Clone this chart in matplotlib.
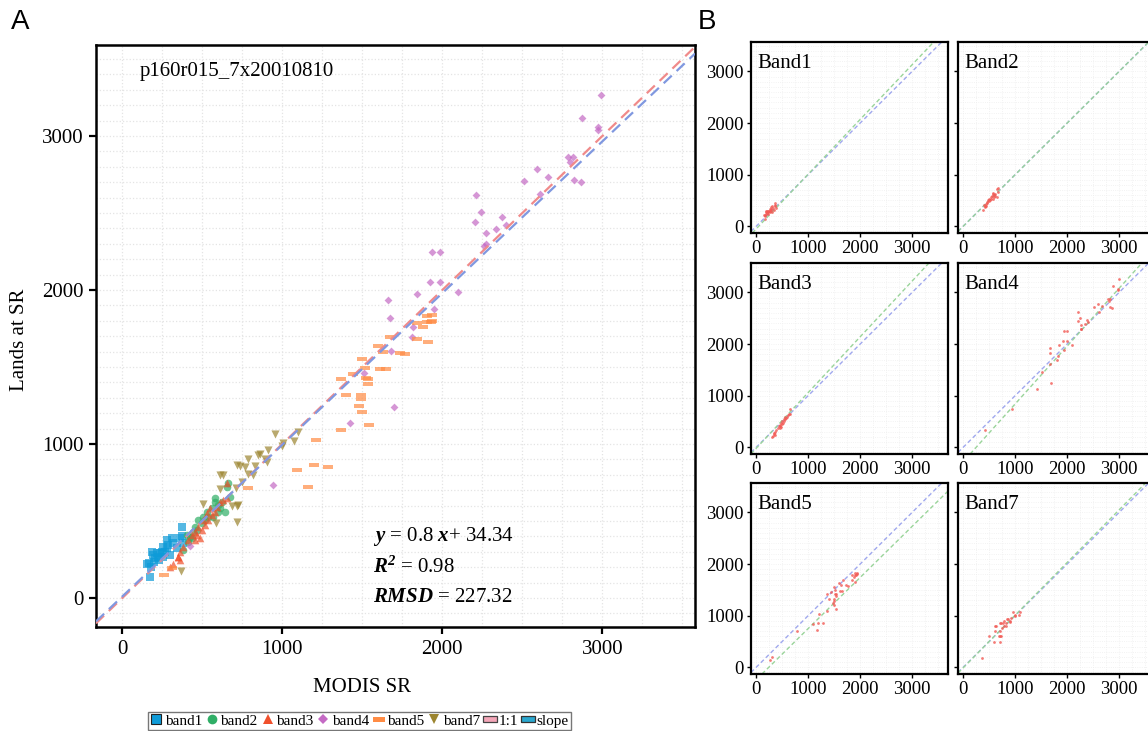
import matplotlib.pyplot as plt
from matplotlib.lines import Line2D
import numpy as np

plt.rcParams['font.family'] = ['Liberation Serif', 'DejaVu Serif']
plt.rcParams['mathtext.fontset'] = 'custom'
plt.rcParams['mathtext.rm'] = 'Liberation Serif'
plt.rcParams['mathtext.it'] = 'Liberation Serif:italic'
plt.rcParams['mathtext.bf'] = 'Liberation Serif:bold:italic'

# --- data (MODIS SR vs Landsat SR) ---
band1_x = [152, 173, 177, 194, 204, 215, 225, 236, 246, 256, 267, 277, 288, 308, 319, 340,
           360, 371, 381, 371, 183, 198, 231, 256, 169, 277, 298]
band1_y = [221, 138, 203, 279, 258, 290, 268, 290, 301, 333, 301, 322, 344, 387, 355, 322,
           387, 403, 355, 459, 301, 236, 247, 268, 225, 377, 279]

band2_x = [663, 652, 579, 600, 610, 642, 600, 558, 538, 517, 496, 475, 454, 444, 423, 402,
           381, 413, 527, 579, 673, 506, 465, 433, 569, 621]
band2_y = [745, 723, 626, 604, 582, 561, 561, 582, 528, 507, 485, 507, 463, 431, 398, 409,
           312, 366, 561, 647, 658, 528, 442, 387, 528, 626]

band3_x = [350, 360, 381, 413, 433, 454, 485, 475, 496, 517, 538, 558, 579, 590, 610, 631,
           652, 548, 527, 465, 506, 360, 652, 454, 348, 320, 300]
band3_y = [268, 301, 333, 377, 409, 431, 387, 463, 442, 474, 507, 539, 561, 593, 626, 636,
           647, 582, 550, 409, 507, 247, 747, 377, 266, 220, 200]

band4_x = [2994, 2875, 2971, 2971, 2787, 2819, 2798, 2825, 2867, 2589, 2512, 2662, 2610,
           2210, 2242, 2206, 2375, 2337, 2396, 2271, 2260, 2273, 1937, 1988, 1925, 1988,
           2098, 1840, 1663, 1673, 1948, 1815, 1677, 1808, 1508, 1698, 1423, 940, 423]
band4_y = [3264, 3117, 3061, 3039, 2866, 2866, 2829, 2714, 2703, 2784, 2708, 2732, 2621,
           2619, 2509, 2439, 2472, 2394, 2422, 2372, 2286, 2299, 2245, 2249, 2054, 2054,
           1985, 1974, 1933, 1820, 1879, 1762, 1606, 1692, 1461, 1242, 1134, 734, 338]

band5_x = [1907, 1936, 1903, 1928, 1936, 1840, 1878, 1673, 1840, 1909, 1600, 1632, 1736,
           1769, 1496, 1517, 1611, 1648, 1444, 1523, 1534, 1538, 1365, 1398, 1490, 1492,
           1478, 1496, 1544, 1365, 1211, 1196, 1288, 1094, 1161, 787, 308, 260]
band5_y = [1831, 1836, 1794, 1794, 1801, 1784, 1758, 1697, 1682, 1660, 1639, 1595, 1589,
           1582, 1550, 1491, 1485, 1485, 1452, 1426, 1420, 1390, 1420, 1316, 1316, 1290,
           1247, 1210, 1121, 1089, 1024, 863, 853, 831, 718, 712, 197, 149]

band7_x = [956, 1096, 1073, 996, 1006, 912, 850, 860, 787, 892, 902, 715, 735, 767, 829,
           787, 819, 610, 631, 746, 610, 708, 502, 683, 715, 725, 585, 715, 365]
band7_y = [1065, 1080, 1022, 987, 1004, 961, 929, 935, 901, 901, 885, 864, 857, 853, 859,
           805, 799, 799, 799, 755, 706, 712, 610, 597, 597, 604, 485, 496, 175]

band_names = ['band1', 'band2', 'band3', 'band4', 'band5', 'band7']
panel_titles = ['Band1', 'Band2', 'Band3', 'Band4', 'Band5', 'Band7']
band_colors = ['#0e9bd8', '#2fae66', '#f0502c', '#c46ac4', '#ff8c45', '#9c8530']

# regression lines shown in panel B (green) per band
fit_slope = [1.06, 1.0, 1.08, 1.12, 0.99, 1.02]
fit_icpt = [-50, 0, -20, -280, -240, -10]
# fitted line in panel A
all_slope, all_icpt = 0.985, 10

xs = [band1_x, band2_x, band3_x, band4_x, band5_x, band7_x]
ys = [band1_y, band2_y, band3_y, band4_y, band5_y, band7_y]

rect = [(-1, -0.4), (1, -0.4), (1, 0.4), (-1, 0.4), (-1, -0.4)]
markers = ['s', 'o', '^', 'D', rect, 'v']
sizes = [28, 30, 30, 16, 42, 34]
leg_sizes = [7, 7, 7, 5, 9, 7]

fig = plt.figure(figsize=(11.48, 7.31), dpi=100)

# ---------------- panel A ----------------
ax = fig.add_axes([96 / 1148, 1 - 627 / 731, 599 / 1148, 582 / 731])
for i in range(6):
    ax.scatter(xs[i], ys[i], marker=markers[i], s=sizes[i], c=band_colors[i],
               alpha=0.7, linewidths=0, zorder=3)
ax.axline((0, 0), slope=1, color='#f08a8a', lw=1.6, ls=(0, (5, 3)), zorder=4)
ax.axline((0, all_icpt), slope=all_slope, color='#8098e0', lw=1.6, ls=(0, (5, 3)), zorder=4)

ax.set_xticks([0, 1000, 2000, 3000])
ax.set_yticks([0, 1000, 2000, 3000])
ax.set_xticks(np.arange(-250, 3751, 250), minor=True)
ax.set_yticks(np.arange(-100, 3601, 100), minor=True)
ax.set_xlim(-164, 3579)
ax.set_ylim(-188, 3591)
ax.grid(which='both', color='#e4e4e4', ls=':', lw=0.9, zorder=0)
ax.tick_params(which='major', direction='out', length=5, width=1.6, labelsize=15, pad=4)
ax.tick_params(which='minor', length=0)
for s in ax.spines.values():
    s.set_linewidth(1.8)

ax.text(0.073, 0.954, 'p160r015_7x20010810', transform=ax.transAxes, fontsize=15,
        va='center', ha='left')
ax.text(0.462, 0.155, r'$\mathbf{y}$ = 0.8 $\mathbf{x}$+ 34.34', transform=ax.transAxes,
        fontsize=15, va='center')
ax.text(0.462, 0.103, r'$\mathbf{R^2}$ = 0.98', transform=ax.transAxes,
        fontsize=15, va='center')
ax.text(0.462, 0.050, r'$\mathbf{RMSD}$ = 227.32', transform=ax.transAxes,
        fontsize=15, va='center')

fig.text(362 / 1148, 1 - 687 / 731, 'MODIS SR', fontsize=15, ha='center', va='center')
fig.text(20 / 1148, 1 - 340 / 731, 'Lands at SR', fontsize=15, ha='center', va='center',
         rotation=90)

fig.text(20 / 1148, 1 - 22 / 731, 'A', fontsize=20, ha='center', va='center',
         family='Liberation Sans')
fig.text(707 / 1148, 1 - 22 / 731, 'B', fontsize=20, ha='center', va='center',
         family='Liberation Sans')

# ---------------- panel B ----------------
col_left = [751, 958]
row_top = [42, 263, 483]
pw, ph = 197, 191
for i in range(6):
    r, c = divmod(i, 2)
    bx = fig.add_axes([col_left[c] / 1148, 1 - (row_top[r] + ph) / 731, pw / 1148, ph / 731])
    bx.scatter(xs[i], ys[i], s=4, c='#f25a55', alpha=0.8, linewidths=0, zorder=3)
    bx.axline((0, 0), slope=1, color='#a0a8ee', lw=1.0, ls=(0, (3, 2)), zorder=2)
    bx.axline((0, fit_icpt[i]), slope=fit_slope[i], color='#9ad49a', lw=1.0,
              ls=(0, (3, 2)), zorder=2)
    bx.set_xticks([0, 1000, 2000, 3000])
    bx.set_yticks([0, 1000, 2000, 3000])
    bx.set_xticks(np.arange(-250, 3751, 250), minor=True)
    bx.set_yticks(np.arange(-100, 3601, 100), minor=True)
    bx.set_xlim(-100, 3690)
    bx.set_ylim(-130, 3570)
    bx.grid(which='both', color='#eeeeee', ls=':', lw=0.6, zorder=0)
    bx.tick_params(which='major', direction='out', length=3, width=1, labelsize=13.5, pad=2)
    bx.tick_params(which='minor', length=0)
    if c == 1:
        bx.tick_params(labelleft=False)
    for s in bx.spines.values():
        s.set_linewidth(1.6)
    bx.text(0.03, 0.89, panel_titles[i], transform=bx.transAxes, fontsize=15,
            va='center', ha='left')

# ---------------- legend ----------------
handles = []
for i in range(6):
    handles.append(Line2D([], [], ls='none', marker=markers[i], color=band_colors[i],
                          markersize=leg_sizes[i],
                          markeredgecolor='#222222' if i == 0 else band_colors[i],
                          markeredgewidth=0.8 if i == 0 else 0))
handles.append(Line2D([], [], ls='none', marker=rect, markersize=10,
                      markerfacecolor='#f4a6b8', markeredgecolor='#444444', markeredgewidth=0.9))
handles.append(Line2D([], [], ls='none', marker=rect, markersize=10,
                      markerfacecolor='#2aa8d0', markeredgecolor='#333333', markeredgewidth=0.9))
labels = band_names + ['1:1', 'slope']
leg = fig.legend(handles, labels, loc='center', bbox_to_anchor=(0.313, 0.0137), ncol=8,
                 fontsize=11, frameon=True, fancybox=False, edgecolor='#555555',
                 handlelength=0.8, handletextpad=0.15, columnspacing=0.25,
                 borderpad=0.15, borderaxespad=0)
leg.get_frame().set_linewidth(1.0)

fig.savefig('out.png', dpi=100)
